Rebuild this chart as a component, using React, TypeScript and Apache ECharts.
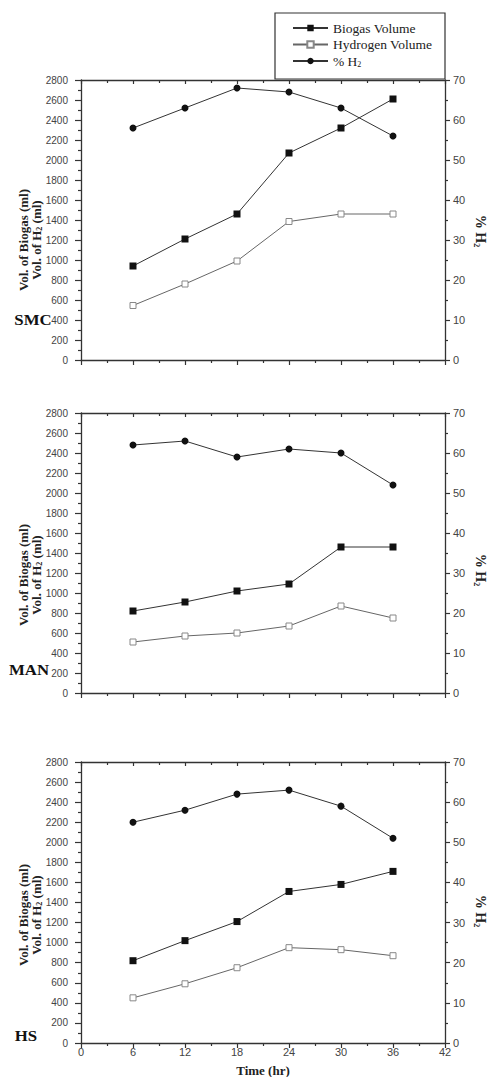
import React, { useEffect, useRef } from "react";
import * as echarts from "echarts";

const time = [6, 12, 18, 24, 30, 36];
const panelNames = ["SMC", "MAN", "HS"];
const smcBiogas = [940, 1210, 1460, 2070, 2320, 2610];
const smcHydrogen = [545, 760, 990, 1385, 1460, 1460];
const smcH2 = [58, 63, 68, 67, 63, 56];
const manBiogas = [820, 910, 1020, 1090, 1460, 1460];
const manHydrogen = [510, 570, 600, 670, 870, 750];
const manH2 = [62, 63, 59, 61, 60, 52];
const hsBiogas = [820, 1020, 1210, 1510, 1580, 1710];
const hsHydrogen = [450, 590, 750, 950, 930, 870];
const hsH2 = [55, 58, 62, 63, 59, 51];
const seriesNames = ["Biogas Volume", "Hydrogen Volume", "% H2"];

const panels = [
  { biogas: smcBiogas, hydrogen: smcHydrogen, h2: smcH2 },
  { biogas: manBiogas, hydrogen: manHydrogen, h2: manH2 },
  { biogas: hsBiogas, hydrogen: hsHydrogen, h2: hsH2 },
];

const layout = [
  { top: 80, height: 280, nameY: 240, rightNameY: 231, label: [33, 320] },
  { top: 413, height: 280, nameY: 575, rightNameY: 570, label: [29, 670] },
  { top: 762, height: 281, nameY: 915, rightNameY: 911, label: [26, 1036] },
];

const AX = "#333";
const LABEL_FONT = "Liberation Sans";
const SERIF = "Liberation Serif";

export default function App() {
  const ref = useRef<HTMLDivElement>(null);
  useEffect(() => {
    if (!ref.current) return;
    const chart = echarts.init(ref.current, undefined, { renderer: "svg" });
    const grids: any[] = [];
    const xAxes: any[] = [];
    const yAxes: any[] = [];
    const series: any[] = [];
    const graphics: any[] = [];

    layout.forEach((L, i) => {
      grids.push({ left: 81, width: 364, top: L.top, height: L.height });
      const last = i === 2;
      xAxes.push({
        type: "value",
        gridIndex: i,
        position: "bottom",
        min: 0,
        max: 42,
        interval: 6,
        axisLine: { show: true, onZero: false, lineStyle: { color: AX, width: 1.3 } },
        axisTick: { show: true, inside: false, length: 5, lineStyle: { color: AX, width: 1.2 } },
        minorTick: { show: true, splitNumber: 2, length: 3, lineStyle: { color: AX, width: 1.2 } },
        axisLabel: { show: last, margin: 3, fontFamily: LABEL_FONT, fontSize: 11, color: "#444" },
        splitLine: { show: false },
      });
      xAxes.push({
        type: "value",
        gridIndex: i,
        position: "top",
        min: 0,
        max: 42,
        interval: 6,
        axisLine: { show: true, onZero: false, lineStyle: { color: AX, width: 1.3 } },
        axisTick: { show: true, inside: true, length: 4, lineStyle: { color: AX, width: 1.2 } },
        minorTick: { show: true, splitNumber: 2, length: 3, lineStyle: { color: AX, width: 1.2 } },
        axisLabel: { show: false },
        splitLine: { show: false },
      });
      yAxes.push({
        type: "value",
        gridIndex: i,
        position: "left",
        min: 0,
        max: 2800,
        interval: 200,
        axisLine: { show: true, onZero: false, lineStyle: { color: AX, width: 1.3 } },
        axisTick: { show: true, inside: false, length: 6, lineStyle: { color: AX, width: 1.2 } },
        minorTick: { show: true, splitNumber: 2, length: 3, lineStyle: { color: AX, width: 1.2 } },
        axisLabel: {
          margin: 13,
          fontFamily: LABEL_FONT,
          fontSize: 10,
          color: "#444",
          formatter: (v: number) => String(v),
        },
        splitLine: { show: false },
      });
      yAxes.push({
        type: "value",
        gridIndex: i,
        position: "right",
        min: 0,
        max: 70,
        interval: 10,
        axisLine: { show: true, onZero: false, lineStyle: { color: AX, width: 1.3 } },
        axisTick: { show: true, inside: false, length: 5, lineStyle: { color: AX, width: 1.2 } },
        minorTick: { show: true, splitNumber: 2, length: 3, lineStyle: { color: AX, width: 1.2 } },
        axisLabel: { margin: 8, fontFamily: LABEL_FONT, fontSize: 11, color: "#444" },
        splitLine: { show: false },
      });

      const P = panels[i];
      series.push({
        name: seriesNames[0],
        type: "line",
        xAxisIndex: 2 * i,
        yAxisIndex: 2 * i,
        data: time.map((t, k) => [t, P.biogas[k]]),
        symbol: "rect",
        symbolSize: 7,
        lineStyle: { color: "#333", width: 1 },
        itemStyle: { color: "#111", borderColor: "#111", borderWidth: 0 },
      });
      series.push({
        name: seriesNames[1],
        type: "line",
        xAxisIndex: 2 * i,
        yAxisIndex: 2 * i,
        data: time.map((t, k) => [t, P.hydrogen[k]]),
        symbol: "rect",
        symbolSize: 6,
        lineStyle: { color: "#666", width: 1 },
        itemStyle: { color: "#fff", borderColor: "#888", borderWidth: 1 },
      });
      series.push({
        name: seriesNames[2],
        type: "line",
        xAxisIndex: 2 * i,
        yAxisIndex: 2 * i + 1,
        data: time.map((t, k) => [t, P.h2[k]]),
        symbol: "circle",
        symbolSize: 7,
        lineStyle: { color: "#333", width: 1 },
        itemStyle: { color: "#111", borderColor: "#111", borderWidth: 0 },
      });

      graphics.push({
        type: "text",
        x: 30,
        y: L.nameY,
        rotation: Math.PI / 2,
        style: {
          text: "{b|Vol. of Biogas (ml)}\n{b|Vol. of H}{s|2}{b| (ml)}",
          align: "center",
          verticalAlign: "middle",
          rich: {
            b: { fontFamily: SERIF, fontWeight: "bold", fontSize: 13, lineHeight: 13, fill: "#222" },
            s: { fontFamily: SERIF, fontWeight: "bold", fontSize: 8, lineHeight: 13, fill: "#222", verticalAlign: "bottom", padding: [6, 0, 0, 0] },
          },
        },
      });
      graphics.push({
        type: "text",
        x: 480,
        y: L.rightNameY,
        rotation: -Math.PI / 2,
        style: {
          text: "{b|% H}{s|2}",
          align: "center",
          verticalAlign: "middle",
          rich: {
            b: { fontFamily: SERIF, fontWeight: "bold", fontSize: 14, lineHeight: 15, fill: "#222" },
            s: { fontFamily: SERIF, fontWeight: "bold", fontSize: 8, lineHeight: 15, fill: "#222", verticalAlign: "bottom", padding: [6, 0, 0, 0] },
          },
        },
      });
      graphics.push({
        type: "text",
        x: L.label[0],
        y: L.label[1],
        scaleX: 1.2,
        style: {
          text: panelNames[i],
          align: "center",
          verticalAlign: "middle",
          fontFamily: SERIF,
          fontWeight: "bold",
          fontSize: 14,
          fill: "#111",
        },
      });
    });

    graphics.push({
      type: "text",
      x: 263,
      y: 1077,
      style: {
        text: "Time (hr)",
        align: "center",
        verticalAlign: "bottom",
        fontFamily: SERIF,
        fontWeight: "bold",
        fontSize: 13,
        fill: "#222",
      },
    });
    graphics.push({
      type: "rect",
      z: 1,
      shape: { x: 275, y: 13, width: 170, height: 66 },
      style: { fill: "#fff", stroke: "#333", lineWidth: 1.2 },
    });

    chart.setOption({
      animation: false,
      backgroundColor: "#fff",
      grid: grids,
      xAxis: xAxes,
      yAxis: yAxes,
      series,
      legend: {
        data: seriesNames,
        orient: "vertical",
        left: 292,
        top: 21,
        padding: 0,
        itemWidth: 35,
        itemHeight: 8,
        itemGap: 2.5,
        z: 10,
        formatter: (name: string) => (name === "% H2" ? "{b|% H}{s|2}" : "{b|" + name + "}"),
        textStyle: {
          fontFamily: SERIF,
          fontSize: 13.5,
          color: "#222",
          rich: {
            b: { fontFamily: SERIF, fontSize: 13.5, color: "#222", lineHeight: 14 },
            s: { fontFamily: SERIF, fontSize: 8, color: "#222", lineHeight: 14, verticalAlign: "bottom", padding: [5, 0, 0, 0] },
          },
        },
      },
      graphic: graphics,
    });
    return () => chart.dispose();
  }, []);
  return (
    <div
      ref={ref}
      style={{ position: "fixed", left: 0, top: 0, width: 488, height: 1077, background: "#fff" }}
    />
  );
}
